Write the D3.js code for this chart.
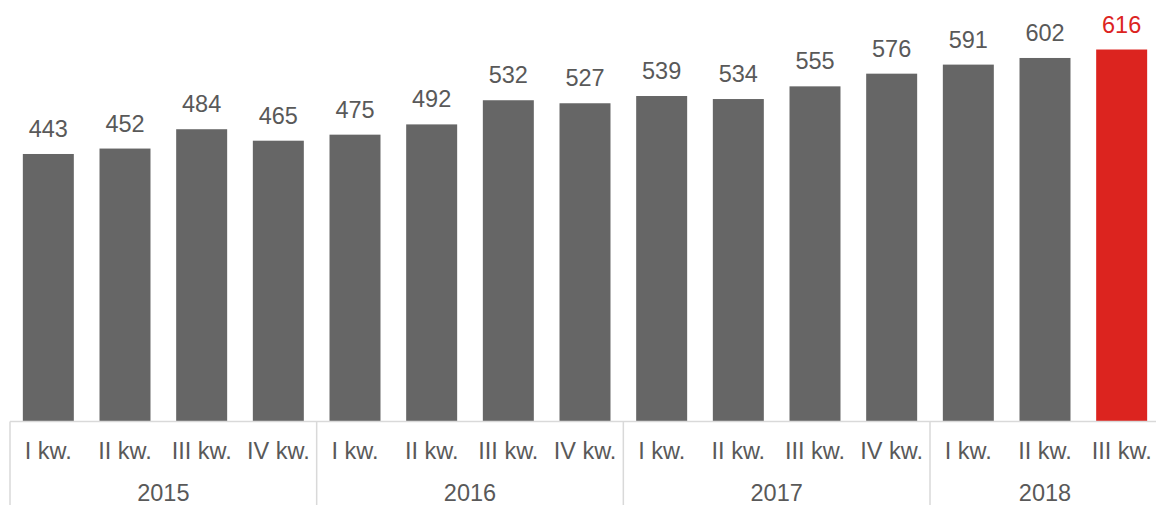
<!DOCTYPE html>
<html><head><meta charset="utf-8">
<script src="https://cdn.jsdelivr.net/npm/d3@7"></script>
<style>html,body{margin:0;padding:0;background:#fff;overflow:hidden}</style>
</head><body>
<svg id="chart" width="1156" height="505"></svg>
<script>
const quarters = ["I kw.","II kw.","III kw.","IV kw.","I kw.","II kw.","III kw.","IV kw.","I kw.","II kw.","III kw.","IV kw.","I kw.","II kw.","III kw."];
const years = ["2015","2015","2015","2015","2016","2016","2016","2016","2017","2017","2017","2017","2018","2018","2018"];
const values = [443,452,484,465,475,492,532,527,539,534,555,576,591,602,616];
const yearGroups = ["2015","2016","2017","2018"];

const svg = d3.select("#chart");
const W = 1156, H = 505;
const baseY = 421.5;
const idx = d3.range(values.length);
const x = d3.scaleBand().domain(idx).range([10, 1160]).paddingInner(0.335).paddingOuter(0.1675);
const y = d3.scaleLinear().domain([0, 698]).range([baseY, 0]);
const grey = "#666666", red = "#dc241f", txt = "#595959", line = "#d9d9d9";
const font = "Liberation Sans, Arial, sans-serif";
const fs = 23.5;
const last = values.length - 1;

svg.selectAll("rect.bar").data(idx).join("rect").attr("class","bar")
  .attr("x", i => x(i)).attr("width", x.bandwidth())
  .attr("y", i => y(values[i])).attr("height", i => baseY - y(values[i]))
  .attr("fill", i => i === last ? red : grey);

svg.selectAll("text.val").data(idx).join("text").attr("class","val")
  .attr("x", i => x(i) + x.bandwidth()/2).attr("y", i => y(values[i]) - 17)
  .attr("text-anchor","middle").attr("font-family", font).attr("font-size", fs)
  .attr("fill", i => i === last ? red : txt).text(i => values[i]);

// axis line
svg.append("line").attr("x1", 10).attr("x2", 1160).attr("y1", baseY).attr("y2", baseY)
  .attr("stroke", line).attr("stroke-width", 1.5);

// group separators
const starts = yearGroups.map(g => years.indexOf(g));
const seps = starts.map(i => x(i) - x.step()*x.paddingInner()/2);
seps.push(1160);
svg.selectAll("line.sep").data(seps).join("line").attr("class","sep")
  .attr("x1", d => d).attr("x2", d => d).attr("y1", baseY).attr("y2", H)
  .attr("stroke", line).attr("stroke-width", 1.5);

svg.selectAll("text.q").data(idx).join("text").attr("class","q")
  .attr("x", i => x(i) + x.bandwidth()/2).attr("y", 459)
  .attr("text-anchor","middle").attr("font-family", font).attr("font-size", fs)
  .attr("fill", txt).text(i => quarters[i]);

svg.selectAll("text.yr").data(yearGroups).join("text").attr("class","yr")
  .attr("x", g => {
    const ii = idx.filter(i => years[i] === g);
    return (x(ii[0]) + x(ii[ii.length-1]) + x.bandwidth())/2;
  }).attr("y", 501)
  .attr("text-anchor","middle").attr("font-family", font).attr("font-size", fs)
  .attr("fill", txt).text(g => g);
</script>
</body></html>
